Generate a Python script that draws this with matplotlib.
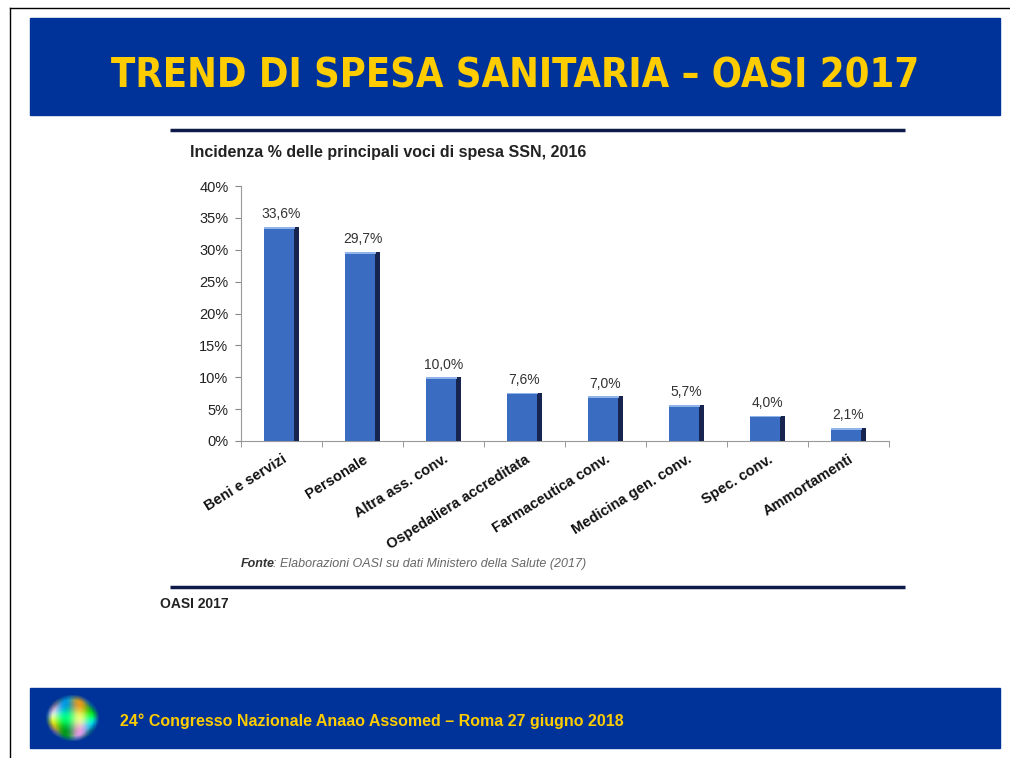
import numpy as np
import matplotlib
matplotlib.use("Agg")
import matplotlib.pyplot as plt
from matplotlib import font_manager
from matplotlib.patches import Rectangle

categories = ["Beni e servizi", "Personale", "Altra ass. conv.", "Ospedaliera accreditata",
              "Farmaceutica conv.", "Medicina gen. conv.", "Spec. conv.", "Ammortamenti"]
values = [33.6, 29.7, 10.0, 7.6, 7.0, 5.7, 4.0, 2.1]
yticks = [0, 5, 10, 15, 20, 25, 30, 35, 40]

BLUE = "#003399"
YELLOW = "#FFCC00"
NAVY = "#0d1a4a"

# look for a narrow/condensed bold face for the title
narrow = None
for f in font_manager.fontManager.ttflist:
    if ("Narrow" in f.name or "Condensed" in f.name or f.stretch in ("condensed", "semi-condensed")) \
            and f.weight in ("bold", 700):
        narrow = f
        break

W, H = 1010, 758
fig = plt.figure(figsize=(W / 100, H / 100), dpi=100)
fig.patch.set_facecolor("white")

bg = fig.add_axes([0, 0, 1, 1])
bg.axis("off")

# slide frame
bg.plot([10, W], [8, 8], color="black", lw=1)
bg.plot([10, 10], [8, H], color="black", lw=1)

# title banner
bg.add_patch(Rectangle((30, 18), 970, 97, color=BLUE))
title = "TREND DI SPESA SANITARIA – OASI 2017"
if narrow is not None:
    bg.text(515, 76, title, color=YELLOW, ha="center", va="center",
            fontproperties=font_manager.FontProperties(fname=narrow.fname, size=28.5))
else:
    bg.text(515, 76, title, color=YELLOW, fontsize=29, fontweight="bold", ha="center",
            va="center", family=["Liberation Sans"])

# chart frame lines
bg.plot([170, 905], [130, 130], color=NAVY, lw=2.5, solid_capstyle="butt")
bg.plot([170, 905], [587, 587], color=NAVY, lw=2.5, solid_capstyle="butt")
bg.text(190, 152, "Incidenza % delle principali voci di spesa SSN, 2016", fontsize=11.5,
        fontweight="bold", color="#222222", va="center", family=["Liberation Sans"])
bg.text(241, 564, "Fonte", fontsize=9, style="italic", fontweight="bold", color="#333333",
        va="center", family=["Liberation Sans"])
bg.text(273, 564, ": Elaborazioni OASI su dati Ministero della Salute (2017)", fontsize=9,
        style="italic", color="#666666", va="center", family=["Liberation Sans"])
bg.text(160, 604, "OASI 2017", fontsize=10, fontweight="bold", color="#222222",
        va="center", family=["Liberation Sans"])

# footer banner
bg.add_patch(Rectangle((30, 688), 970, 60, color=BLUE))
bg.text(120, 721, "24° Congresso Nazionale Anaao Assomed – Roma 27 giugno 2018", color=YELLOW,
        fontsize=11.5, fontweight="bold", va="center", family=["Liberation Sans"])

# small logo (colourful brain-like blob)
gx, gy = np.meshgrid(np.linspace(-1, 1, 40), np.linspace(-1, 1, 40))
r = np.sqrt(gx ** 2 + gy ** 2)
img = np.zeros((40, 40, 4))
img[..., 0] = 0.45 + 0.45 * np.sin(gx * 6)
img[..., 1] = 0.8 + 0.2 * np.cos(gy * 5)
img[..., 2] = 0.5 + 0.4 * np.sin(gx * gy * 8)
img[..., 3] = np.clip((1.0 - r) * 4, 0, 1)
bg.imshow(img, extent=(45, 100, 742, 694), zorder=2)
bg.set_xlim(0, W)
bg.set_ylim(H, 0)
bg.set_aspect("auto")

# bar chart axes: x from 241 to 889 px, y from 186 to 441 px
ax = fig.add_axes([241 / W, (H - 441) / H, 648 / W, 255 / H])
x = np.arange(len(categories))
bw = 0.42
ax.bar(x, values, width=bw, color="#3a6cc2", zorder=3)
ax.bar(x + bw / 2 - 0.03, values, width=0.06, color="#16244f", zorder=4)
ax.bar(x - 0.02, [0.3] * len(values), width=bw - 0.04,
       bottom=[v - 0.3 for v in values], color="#8fb4ea", zorder=5)

for xi, v in zip(x, values):
    ax.text(xi, v + 0.9, f"{v:.1f}%".replace(".", ","), ha="center", va="bottom",
            fontsize=10, color="#333333", family=["Liberation Sans"])

ax.set_xlim(-0.5, len(categories) - 0.5)
ax.set_ylim(0, 40)
ax.set_yticks(yticks)
ax.set_yticklabels([f"{t}%" for t in yticks], fontsize=10.5, color="#222222",
                   family=["Liberation Sans"])
ax.set_xticks(x)
ax.set_xticklabels(categories, rotation=32, ha="right", rotation_mode="anchor",
                   fontsize=10.5, fontweight="bold", color="#111111", family=["Liberation Sans"])
ax.tick_params(axis="x", length=0, pad=8)
ax.set_xticks(np.arange(len(categories) + 1) - 0.5, minor=True)
ax.tick_params(axis="x", which="minor", length=4, color="#888888")
ax.tick_params(axis="y", length=4, color="#888888", pad=5)
for s in ["top", "right"]:
    ax.spines[s].set_visible(False)
ax.spines["left"].set_color("#999999")
ax.spines["bottom"].set_color("#999999")
ax.set_facecolor("none")

fig.savefig("out.png", dpi=100)
